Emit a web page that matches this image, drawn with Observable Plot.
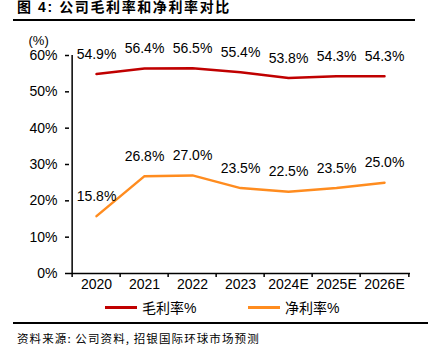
<!DOCTYPE html>
<html>
<head>
<meta charset="utf-8">
<script src="https://cdn.jsdelivr.net/npm/d3@7"></script>
<script src="https://cdn.jsdelivr.net/npm/@observablehq/plot@0.6"></script>
<style>
  html, body { margin: 0; padding: 0; background: #fff; }
  body { width: 440px; height: 359px; position: relative; overflow: hidden;
         font-family: "Liberation Sans", Arial, "Noto Sans CJK SC", sans-serif; color: #000; }
  #title { position: absolute; left: 17px; top: -1px; font-size: 14px; font-weight: bold; line-height: 16px;
           letter-spacing: 1.6px;
           font-family: "Liberation Sans", "Noto Sans CJK SC", sans-serif; white-space: nowrap; }
  .rule { position: absolute; background: #000; }
  #chart { position: absolute; left: 0; top: 0; }
  .legend-item { position: absolute; top: 298px; height: 18px; display: flex; align-items: center; gap: 5px;
                 font-size: 14px; font-family: "Liberation Sans", "Noto Sans CJK SC", sans-serif; white-space: nowrap; }
  .swatch { width: 32px; height: 3px; }
  #source { position: absolute; left: 17px; top: 331px; font-size: 11.5px; line-height: 14px; letter-spacing: 1.1px;
            font-family: "Noto Sans CJK SC", sans-serif; white-space: nowrap; }
</style>
</head>
<body>
<div id="title">图 4: 公司毛利率和净利率对比</div>
<div class="rule" style="left:13px; top:19px; width:402px; height:2px;"></div>
<div id="chart"></div>
<div id="legend"></div>
<div class="rule" style="left:13px; top:322px; width:415px; height:2px;"></div>
<div id="source">资料来源: 公司资料, 招银国际环球市场预测</div>
<script>
// ---- data ----
const years = ["2020", "2021", "2022", "2023", "2024E", "2025E", "2026E"];
const grossMargin = [54.9, 56.4, 56.5, 55.4, 53.8, 54.3, 54.3];
const netMargin = [15.8, 26.8, 27.0, 23.5, 22.5, 23.5, 25.0];
const yTicks = [0, 10, 20, 30, 40, 50, 60];
const seriesNames = ["毛利率%", "净利率%"];
const seriesColors = ["#C00000", "#FF8C1F"];

// ---- build table ----
const rows = [
  ...years.map((year, i) => ({year, value: grossMargin[i], series: seriesNames[0]})),
  ...years.map((year, i) => ({year, value: netMargin[i], series: seriesNames[1]}))
];

const W = 440, H = 300, mL = 69, mR = 30, mT = 55, mB = 27;
const step = (W - mL - mR) / years.length;

const chart = Plot.plot({
  width: W,
  height: H,
  marginLeft: mL,
  marginRight: mR,
  marginTop: mT,
  marginBottom: mB,
  style: {fontFamily: "Liberation Sans, Arial, sans-serif", fontSize: "14px", color: "#000", background: "transparent", overflow: "visible"},
  x: {type: "point", domain: years, padding: 0.5, axis: null},
  y: {domain: [0, 60], axis: null},
  color: {domain: seriesNames, range: seriesColors},
  marks: [
    Plot.axisY(yTicks, {tickFormat: d => d + "%", tickSize: 4, tickPadding: 8, fontSize: 14, label: null, strokeWidth: 1.5}),
    Plot.axisX(years, {tickSize: 0, tickPadding: 6, fontSize: 14, label: null}),
    Plot.ruleY([0], {strokeWidth: 1.5}),
    Plot.ruleX([years[0]], {x: d => d, dx: -step / 2, y1: 0, y2: 60, strokeWidth: 1.5}),
    Plot.ruleX(years, {x: d => d, dx: -step / 2, y1: 0, y2: 0, insetBottom: -4, strokeWidth: 1.5}),
    Plot.ruleX([years[years.length - 1]], {x: d => d, dx: step / 2, y1: 0, y2: 0, insetBottom: -4, strokeWidth: 1.5}),
    Plot.line(rows, {x: "year", y: "value", z: "series", stroke: "series", strokeWidth: 2.5}),
    Plot.text(rows, {x: "year", y: "value", text: d => d.value.toFixed(1) + "%", dy: -20, fontSize: 14, fill: "#000"}),
    Plot.text(["(%)"], {text: d => d, frameAnchor: "top-left", dx: -41, dy: -20, textAnchor: "start", fontSize: 13})
  ]
});
document.getElementById("chart").appendChild(chart);

// ---- legend ----
const legendLefts = [105, 248];
const legend = document.getElementById("legend");
seriesNames.forEach((name, i) => {
  const item = document.createElement("div");
  item.className = "legend-item";
  item.style.left = legendLefts[i] + "px";
  const sw = document.createElement("div");
  sw.className = "swatch";
  sw.style.background = seriesColors[i];
  const label = document.createElement("span");
  label.textContent = name;
  item.appendChild(sw);
  item.appendChild(label);
  legend.appendChild(item);
});
</script>
</body>
</html>
